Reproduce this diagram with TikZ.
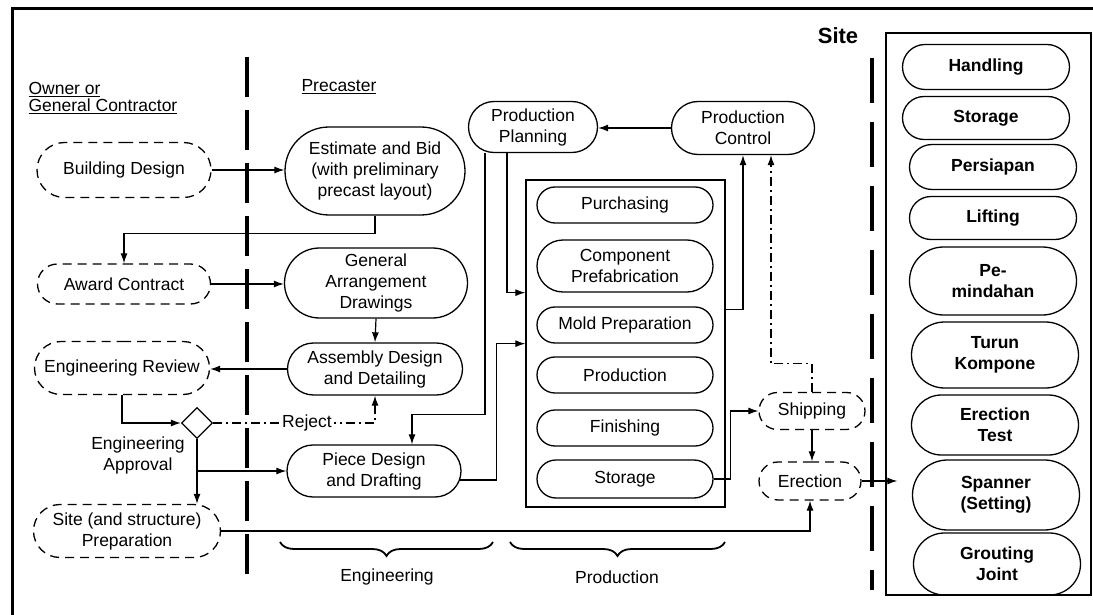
\documentclass[tikz,border=0pt]{standalone}
\usepackage{fontspec}
\setmainfont{Liberation Sans}
\usetikzlibrary{arrows.meta,shapes.misc,shapes.geometric,decorations.pathreplacing}

\tikzset{
  proc/.style={draw,rounded rectangle,align=center,inner sep=2pt,line width=1.3pt},
  ext/.style={proc,dash pattern=on 9pt off 6pt},
  sitem/.style={proc,font=\fontsize{17.5}{21}\selectfont\bfseries,minimum width=171pt},
  link/.style={line width=1.2pt,-{Latex[length=10pt,width=7pt]}},
  sep/.style={line width=4.5pt},
  bracket/.style={line width=1.8pt,decorate,decoration={brace,mirror,amplitude=14pt}}
}

\begin{document}
\begin{tikzpicture}[x=1pt,y=-1pt,font=\fontsize{17.5}{21}\selectfont]
\useasboundingbox (0,0) rectangle (1093,615);
\draw [line width=3pt] (12,615) -- (12,9) -- (1093,9);
\draw [sep,dash pattern=on 40pt off 13pt] (247,57) -- (247,580);
\draw [sep,dash pattern=on 45pt off 19pt] (872,58) -- (872,590);
\node [anchor=west,align=left,font=\fontsize{17.5}{17}\selectfont] (ownerlbl) at (25,98) {\underline{Owner or}\\\underline{General Contractor}};
\node [anchor=west] (precaster) at (298,87) {\underline{Precaster}};
\node [ext,minimum width=178pt,minimum height=55pt] (bdes) at (124,170) {Building Design};
\node [ext,minimum width=177pt,minimum height=40pt] (award) at (124,284) {Award Contract};
\node [ext,minimum width=179pt,minimum height=53pt] (review) at (122,368) {Engineering Review};
\node [draw,diamond,minimum width=31pt,minimum height=31pt,inner sep=0pt,line width=1.3pt] (appr) at (197,423) {};
\node [align=center] (apprlbl) at (138,455) {Engineering\\Approval};
\node [ext,minimum width=191pt,minimum height=53pt] (sitep) at (127,531) {Site (and structure)\\Preparation};
\node [proc,minimum width=184pt,minimum height=88pt] (bid) at (375,171) {Estimate and Bid\\(with preliminary\\precast layout)};
\node [proc,minimum width=187pt,minimum height=70pt] (gad) at (376,283) {General\\Arrangement\\Drawings};
\node [proc,minimum width=179pt,minimum height=52pt] (asm) at (375,369) {Assembly Design\\and Detailing};
\node [proc,minimum width=178pt,minimum height=52pt] (piece) at (374,471) {Piece Design\\and Drafting};
\node [proc,minimum width=133pt,minimum height=51pt] (plan) at (533,127) {Production\\Planning};
\node [proc,minimum width=147pt,minimum height=53pt] (ctrl) at (743,128) {Production\\Control};
\node [draw,line width=1.3pt,minimum width=199pt,minimum height=327pt] (prodbox) at (625.5,343.5) {};
\node [proc,minimum width=180pt,minimum height=36pt] (purch) at (625,205) {Purchasing};
\node [proc,minimum width=180pt,minimum height=52pt] (comp) at (625,266) {Component\\Prefabrication};
\node [proc,minimum width=180pt,minimum height=36pt] (mold) at (625,325) {Mold Preparation};
\node [proc,minimum width=180pt,minimum height=36pt] (prod) at (625,375) {Production};
\node [proc,minimum width=180pt,minimum height=36pt] (fin) at (625,428) {Finishing};
\node [proc,minimum width=180pt,minimum height=38pt] (stor) at (625,479) {Storage};
\node [ext,minimum width=110pt,minimum height=37pt] (ship) at (812,411) {Shipping};
\node [ext,minimum width=106pt,minimum height=38pt] (erect) at (810,481) {Erection};
\node [font=\fontsize{22}{24}\selectfont\bfseries] (sitelbl) at (838,36) {Site};
\node [draw,line width=1.3pt,minimum width=205pt,minimum height=562pt] (sitebox) at (988.5,314) {};
\node [sitem,minimum height=45pt] (handling) at (986,67) {Handling};
\node [sitem,minimum height=43pt] (sstorage) at (986,118) {Storage};
\node [sitem,minimum height=45pt] (persiapan) at (993,167) {Persiapan};
\node [sitem,minimum height=43pt] (lifting) at (993,218) {Lifting};
\node [sitem,minimum height=68pt] (pemindahan) at (993,281) {Pe-\\mindahan};
\node [sitem,minimum height=66pt] (turun) at (995,355) {Turun\\Kompone};
\node [sitem,minimum height=60pt] (etest) at (995,425) {Erection\\Test};
\node [sitem,minimum height=70pt] (spanner) at (996,495) {Spanner\\(Setting)};
\node [sitem,minimum height=62pt] (grout) at (997,564) {Grouting\\Joint};
\draw [link] (bdes.east) -- (bdes.east -| bid.west);
\draw [link] (bid.south) -- ++(0,18) -| (award.north);
\draw [link] (award.east) -- (award.east -| gad.west);
\draw [link] (gad.south) -- (asm.north);
\draw [link] (asm.west) -- (asm.west -| review.east);
\draw [link] (review.south) |- (appr.west);
\draw [link,dash pattern=on 9pt off 4pt on 2pt off 4pt] (appr.east) -| node [pos=0.29,fill=white,inner sep=2pt] {Reject} (asm.south);
\draw [link] (appr.south) -- (appr.south |- sitep.north);
\draw [link] (appr.south |- piece.west) -- (piece.west);
\draw [link] (sitep.east) -| (erect.south);
\draw [link] ([xshift=-48pt]plan.south) -- ++(0,261) -| ([xshift=38pt]piece.north);
\draw [link] ([xshift=-26pt]plan.south) |- (prodbox.west |- comp.south);
\draw [link] ([shift={(-2pt,-9pt)}]piece.east) -- ++(37,0) |- (prodbox.west |- mold.south);
\draw [link] ([yshift=-3pt]prodbox.east |- mold.north) -| (ctrl.south);
\draw [link,dash pattern=on 9pt off 4pt on 2pt off 4pt] (ship.north) -- ++(0,-28) -| ([xshift=28pt]ctrl.south);
\draw [link] (ctrl.west) -- (ctrl.west -| plan.east);
\draw [link] (stor.east) -- ++(17,0) |- (ship.west);
\draw [link] (ship.south) -- (ship.south |- erect.north);
\draw [link] (erect.east) -- ([xshift=12pt]erect.east -| sitebox.west);
\draw [bracket] (280,542) -- (493,542);
\draw [bracket] (510,542) -- (725,542);
\node (englbl) at (387,577) {Engineering};
\node (prodlbl) at (617,577) {Production};
\end{tikzpicture}
\end{document}
